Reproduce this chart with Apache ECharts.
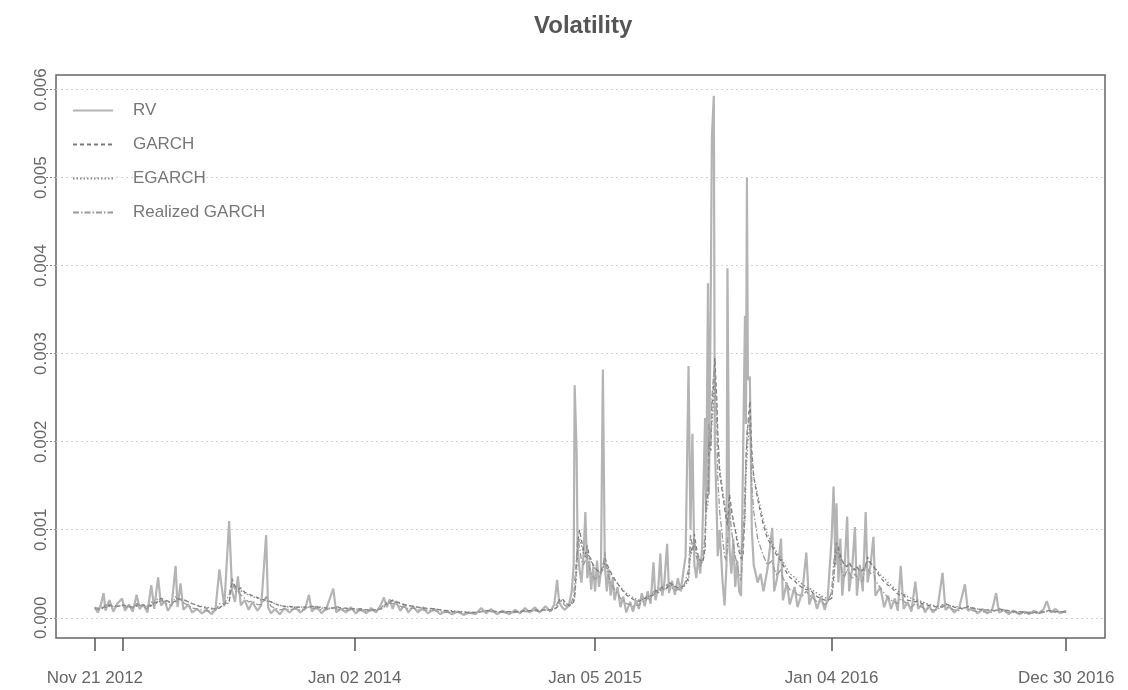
<!DOCTYPE html>
<html>
<head>
<meta charset="utf-8">
<title>Volatility</title>
<script src="https://cdn.jsdelivr.net/npm/echarts@6/dist/echarts.min.js"></script>
<style>
	html, body { margin: 0; padding: 0; background: #fff; }
	#main { width: 1128px; height: 690px; }
</style>
</head>
<body>
<div id="main"></div>
<script>
// x = trading-day number counted from Nov 21 2012 (the plot is by observation, like xts)
// values are read off the picture, in units of 1e-4
var obs = [
	0,3,6,9,11, 15,19,23,28,31, 35,39,43,46,50, 54,58,61,65,68, 72,75,79,83,85, 88,91,96,100,105,
	110,115,120,124,128, 133,138,141,144,147, 150,154,158,162,167, 171,176,178,181,185, 190,195,200,206,211,
	216,220,223,228,233, 238,245,248,253,
	258,263,268,273,279, 284,289,294,297,300, 303,306,309,314,318, 322,327,332,337,342, 349,355,361,367,373,
	379,385,391,397,402, 407,413,419,426,432, 437,442,447,452,457, 463,468,472,475,477, 480,483,487,490,
	492,493,495,496,498, 500,502,504,506,508, 510,512,514,516,518, 520,522,524,526,528, 530,532,534,537,540,
	543,546,550,553,
	556,559,562,565,568, 571,574,576,579,581, 583,585,588,590,593, 596,599,602,605,607, 610,612,614,616,618,
	620,622,624,625,627, 628,630,631,633,634, 636,637,639,640,642, 645,647,649,650,652, 654,656,658,660,662,
	664,666,668,669,670, 671,673,675,677,681, 684,687,691,696,698, 701,705,707,711,714, 719,722,727,731,734,
	738,742,746,750,753,
	757,759,761,762,764, 766,768,770,773,775, 778,781,783,786,789, 792,794,797,800,802, 807,811,815,818,822,
	825,828,831,835,839, 843,846,850,853,857, 861,866,871,874,878, 883,888,894,897,902, 907,912,917,922,926,
	929,934,939,944,950, 955,960,965,970,975, 978,982,987,992,998
];

var rv = [
	1.2,0.6,1.4,2.8,0.8, 2.0,0.7,1.6,2.2,0.8, 1.5,0.7,2.6,1.0,1.5, 0.6,3.7,1.0,4.6,1.4, 1.9,0.8,1.5,5.9,1.2, 3.9,0.9,1.5,0.6,1.0,
	0.5,0.9,0.4,1.0,5.5, 1.3,11.0,3.0,1.8,4.7, 1.4,2.0,0.9,1.8,0.8, 1.4,9.4,1.2,0.5,1.0, 0.4,1.1,0.6,1.2,0.6,
	1.0,2.6,0.7,1.3,0.5, 1.1,3.3,0.6,1.0,
	0.6,1.2,0.5,1.0,0.5, 1.1,0.6,1.5,2.3,1.2, 2.1,1.0,1.9,0.8,1.5, 0.6,1.3,0.6,1.2,0.5, 1.0,0.4,0.8,0.4,0.7,
	0.3,0.6,0.4,1.1,0.5, 1.0,0.4,0.8,0.4,0.9, 0.5,1.1,0.6,1.2,0.6, 1.3,0.7,1.5,4.3,1.8, 1.2,0.9,1.4,3.0,
	6.0,26.4,18.8,8.0,5.5, 4.0,7.0,12.0,4.5,6.5, 3.2,5.8,3.0,6.5,3.5, 5.2,28.2,6.0,3.0,5.5, 2.5,4.5,2.0,3.5,1.2,
	2.4,0.6,1.8,0.7,
	2.0,1.0,2.8,1.3,3.0, 1.6,6.3,2.0,3.5,7.3, 2.5,3.8,8.4,2.8,4.2, 2.6,4.5,3.0,5.5,7.0, 28.6,10.0,20.9,6.0,4.5,
	7.0,5.0,8.0,13.0,22.7, 12.0,38.0,14.0,39.0,54.6, 59.3,20.0,12.0,7.0,10.0, 4.0,1.4,6.0,39.7,8.0, 5.0,9.0,3.5,6.5,3.0,
	2.5,18.0,34.3,22.0,50.0, 27.0,27.4,10.0,6.0,4.0, 5.0,3.0,5.5,10.2,3.0, 4.5,9.0,2.0,4.0,1.5, 3.5,1.2,3.0,7.4,1.5,
	2.8,1.0,2.4,0.9,2.2,
	9.0,14.9,6.0,13.0,4.0, 9.0,2.5,5.0,11.5,3.0, 5.5,10.3,2.5,6.0,3.0, 12.0,4.0,6.0,9.2,2.5, 3.5,1.2,2.5,1.0,2.2,
	0.8,5.9,1.0,1.8,0.7, 4.1,1.0,1.6,0.6,1.4, 0.6,1.2,5.1,0.9,1.3, 0.6,1.1,3.8,0.8,1.1, 0.5,1.0,0.5,0.9,2.8,
	0.6,0.9,0.4,0.8,0.4, 0.7,0.4,0.8,0.5,1.0, 1.9,0.6,1.0,0.5,0.8
];

var garch = [
	1.1,1.1,1.0,1.2,1.3, 1.4,1.4,1.3,1.4,1.4, 1.3,1.2,1.4,1.6,1.4, 1.3,1.4,1.7,1.8,2.2, 2.0,1.9,1.7,1.9,2.2, 2.1,2.1,1.8,1.6,1.4,
	1.2,1.1,1.0,1.0,1.1, 1.6,1.8,4.4,3.6,3.2, 3.4,2.9,2.7,2.5,2.3, 2.1,2.0,2.2,1.8,1.6, 1.4,1.3,1.3,1.2,1.2,
	1.2,1.2,1.3,1.2,1.2, 1.1,1.1,1.3,1.1,
	1.1,1.0,1.0,1.0,0.9, 0.9,0.9,1.0,1.3,1.7, 1.8,2.0,1.8,1.7,1.5, 1.4,1.3,1.2,1.1,1.1, 1.0,0.9,0.8,0.7,0.7,
	0.6,0.6,0.6,0.7,0.8, 0.8,0.7,0.7,0.7,0.7, 0.7,0.8,0.8,0.9,0.8, 0.9,0.9,1.0,1.2,2.0, 2.2,1.8,1.4,1.5,
	1.8,2.4,6.0,8.5,10.0, 8.8,7.8,7.2,8.2,7.0, 6.6,6.0,5.8,5.4,5.6, 5.2,5.0,6.8,6.2,5.6, 5.2,4.8,4.4,3.9,3.4,
	3.0,2.6,2.3,2.1,
	1.9,1.9,2.0,2.2,2.4, 2.5,2.6,3.1,3.0,3.0, 3.5,3.4,3.4,4.0,3.8, 3.6,3.4,3.5,3.6,4.0, 4.5,8.0,7.5,9.5,8.0,
	7.0,6.6,6.2,6.5,8.0, 13.0,14.0,20.0,19.0,24.0, 27.0,29.5,25.0,21.0,16.4, 14.0,12.5,11.0,10.5,14.0, 12.5,11.0,10.0,8.5,7.5,
	6.7,7.0,12.0,18.0,20.0, 22.0,24.6,19.0,16.0,13.5, 11.9,10.5,9.0,8.1,8.0, 7.0,6.5,6.4,5.1,4.6, 4.2,3.8,3.4,3.2,3.3,
	2.8,2.4,2.2,2.0,2.0,
	2.2,4.5,7.5,8.5,8.0, 7.0,6.5,6.0,5.8,6.3, 5.6,5.4,5.8,5.2,5.4, 6.0,6.9,6.2,5.8,5.5, 4.6,4.1,3.7,3.5,3.0,
	2.7,2.5,2.6,2.0,1.9, 1.8,1.9,1.6,1.5,1.4, 1.3,1.2,1.2,1.6,1.4, 1.2,1.1,1.0,1.3,1.1, 1.0,0.9,0.9,0.8,0.8,
	1.0,0.9,0.8,0.7,0.7, 0.6,0.6,0.6,0.6,0.7, 0.8,0.8,0.7,0.7,0.7
];

var egarch = [
	1.0,1.0,1.0,1.1,1.2, 1.3,1.3,1.3,1.4,1.3, 1.3,1.2,1.3,1.4,1.4, 1.3,1.3,1.6,1.7,2.0, 1.9,1.8,1.7,1.8,2.1, 2.0,2.0,1.8,1.6,1.4,
	1.3,1.2,1.1,1.0,1.1, 1.5,1.7,3.9,3.4,3.0, 3.1,2.8,2.6,2.4,2.2, 2.0,1.9,2.0,1.8,1.6, 1.4,1.3,1.2,1.2,1.2,
	1.2,1.2,1.3,1.2,1.1, 1.1,1.1,1.2,1.1,
	1.0,1.0,1.0,0.9,0.9, 0.9,0.9,1.0,1.2,1.5, 1.7,1.9,1.8,1.6,1.5, 1.4,1.3,1.2,1.1,1.0, 1.0,0.9,0.8,0.8,0.7,
	0.7,0.6,0.6,0.7,0.8, 0.8,0.7,0.7,0.7,0.7, 0.7,0.8,0.8,0.8,0.8, 0.9,0.9,1.0,1.1,1.8, 2.0,1.7,1.4,1.5,
	1.7,2.2,5.2,7.5,9.0, 8.2,7.4,6.8,7.8,6.8, 6.4,5.9,5.6,5.3,5.4, 5.1,4.9,6.2,5.8,5.3, 5.0,4.6,4.3,3.9,3.5,
	3.1,2.8,2.5,2.3,
	2.1,2.0,2.1,2.2,2.4, 2.5,2.6,2.9,2.9,2.9, 3.3,3.3,3.3,3.7,3.7, 3.5,3.4,3.4,3.5,3.8, 4.2,7.0,6.8,8.5,7.5,
	6.8,6.5,6.2,6.4,7.5, 12.0,13.0,18.0,18.0,22.0, 25.0,27.5,24.0,20.5,17.0, 14.5,13.0,11.5,10.5,13.0, 12.0,11.0,10.0,9.0,8.0,
	7.2,7.0,11.0,16.0,18.0, 20.0,22.0,18.5,16.0,14.0, 12.5,11.0,9.5,8.5,8.0, 7.3,6.8,6.6,5.6,5.0, 4.6,4.2,3.8,3.5,3.4,
	3.1,2.8,2.5,2.3,2.1,
	2.2,4.0,6.8,7.5,7.5, 6.8,6.5,6.0,5.8,6.2, 5.8,5.5,5.8,5.4,5.4, 6.0,6.5,6.2,5.9,5.6, 4.9,4.5,4.0,3.7,3.3,
	3.0,2.8,2.7,2.4,2.2, 2.0,2.0,1.8,1.7,1.5, 1.4,1.3,1.2,1.5,1.4, 1.3,1.2,1.1,1.2,1.1, 1.0,0.9,0.9,0.9,0.8,
	0.9,0.8,0.8,0.7,0.7, 0.7,0.6,0.6,0.6,0.7, 0.7,0.8,0.7,0.7,0.7
];

var rgarch = [
	1.2,0.9,1.1,1.4,1.3, 1.5,1.2,1.3,1.5,1.2, 1.3,1.1,1.6,1.5,1.3, 1.0,1.8,1.6,2.2,2.0, 1.7,1.5,1.4,2.4,2.0, 2.1,1.7,1.4,1.1,1.0,
	0.9,0.8,0.7,0.8,1.6, 1.6,2.6,4.5,3.0,3.0, 2.6,2.2,1.8,1.9,1.5, 1.5,2.4,2.0,1.3,1.1, 0.9,1.0,0.9,1.0,0.9,
	1.0,1.3,1.1,1.0,0.9, 0.9,1.2,1.0,0.9,
	0.8,0.9,0.8,0.8,0.7, 0.8,0.8,1.1,1.5,1.6, 1.7,1.6,1.6,1.3,1.2, 1.0,1.1,0.9,0.9,0.8, 0.8,0.7,0.6,0.6,0.6,
	0.5,0.5,0.5,0.7,0.7, 0.7,0.6,0.6,0.5,0.6, 0.6,0.7,0.7,0.8,0.7, 0.9,0.8,1.0,1.6,2.0, 1.8,1.4,1.2,1.8,
	2.5,4.0,7.0,9.0,8.0, 6.5,6.0,6.5,7.2,5.8, 5.0,4.8,4.4,4.6,4.6, 4.4,5.5,7.5,5.5,4.6, 4.0,3.6,3.2,2.8,2.2,
	2.0,1.6,1.5,1.3,
	1.4,1.4,1.8,1.9,2.2, 2.1,3.0,3.0,2.8,3.4, 3.3,3.1,3.8,3.6,3.4, 3.1,3.2,3.2,3.5,4.2, 5.5,9.5,8.0,9.0,7.0,
	6.2,5.8,6.0,7.0,9.5, 14.0,15.0,22.0,20.0,25.0, 28.0,28.5,22.0,16.0,12.0, 9.0,7.0,6.5,8.0,13.0, 10.0,8.5,7.0,6.0,5.0,
	4.2,8.0,15.0,18.0,21.0, 22.0,23.0,15.0,12.0,9.0, 8.0,7.0,6.0,6.5,5.5, 4.8,5.5,4.5,3.8,3.2, 3.0,2.6,2.5,3.0,2.6,
	2.2,1.8,1.8,1.5,1.7,
	3.0,6.0,8.0,8.5,7.0, 6.5,5.0,4.6,5.5,5.2, 4.4,5.0,4.6,4.2,4.2, 6.0,6.0,5.0,5.2,4.2, 3.4,2.8,2.3,2.0,1.8,
	1.6,2.2,1.9,1.5,1.2, 1.6,1.4,1.2,1.0,1.0, 0.9,0.9,1.5,1.3,1.1, 0.9,0.8,1.2,1.0,0.8, 0.7,0.7,0.6,0.6,0.9,
	0.8,0.7,0.6,0.6,0.5, 0.5,0.5,0.5,0.5,0.6, 0.8,0.7,0.6,0.6,0.6
];

// axis ticks: observation number and its date
var tickObs = [0, 29, 267, 514, 757, 998];
var tickLabels = ['Nov 21 2012', '', 'Jan 02 2014', 'Jan 05 2015', 'Jan 04 2016', 'Dec 30 2016'];
var yTicks = [0, 0.001, 0.002, 0.003, 0.004, 0.005, 0.006];

var FONT = 'Liberation Sans, Arial, sans-serif';

function lineSeries(name, values, color, width, dash) {
	return {
		name: name,
		type: 'line',
		data: obs.map(function (o, i) { return [o, values[i] * 1e-4]; }),
		symbol: 'none',
		lineStyle: { color: color, width: width, type: dash },
		itemStyle: { color: color },
		emphasis: { disabled: true }
	};
}

var myChart = echarts.init(document.getElementById('main'));
var option = {
	animation: false,
	backgroundColor: '#fff',
	title: {
		text: 'Volatility',
		left: 529,
		top: 9,
		textStyle: { fontSize: 24, fontWeight: 'bold', color: '#555', fontFamily: FONT }
	},
	legend: {
		orient: 'vertical',
		left: 67,
		top: 97,
		itemWidth: 40,
		itemHeight: 14,
		itemGap: 17,
		itemStyle: { opacity: 0 },
		textStyle: { fontSize: 17, color: '#777', fontFamily: FONT, padding: [0, 0, 0, 15] },
		data: ['RV', 'GARCH', 'EGARCH', 'Realized GARCH']
	},
	grid: {
		left: 56, right: 23, top: 75, bottom: 52,
		show: true,
		borderColor: '#666',
		borderWidth: 1.5
	},
	xAxis: {
		type: 'value',
		min: -39.9,
		max: 1037.9,
		axisLine: { show: false, onZero: false },
		axisTick: { customValues: tickObs, length: 13, lineStyle: { color: '#555', width: 1.5 } },
		axisLabel: {
			customValues: tickObs,
			margin: 32,
			fontSize: 17,
			color: '#666',
			fontFamily: FONT,
			formatter: function (v) { return tickLabels[tickObs.indexOf(v)]; }
		},
		splitLine: { show: false }
	},
	yAxis: {
		type: 'value',
		min: -0.00023,
		max: 0.006166,
		axisLine: { show: false, onZero: false },
		axisTick: { show: true, customValues: yTicks, length: 11, lineStyle: { color: '#888', width: 1, type: [2, 2] } },
		axisLabel: {
			customValues: yTicks,
			rotate: 90,
			margin: 6,
			fontSize: 17,
			color: '#666',
			fontFamily: FONT,
			formatter: function (v) { return v.toFixed(3); }
		},
		splitLine: { show: true, lineStyle: { color: '#d2d2d2', width: 1, type: [2, 3] } }
	},
	series: [
		lineSeries('RV', rv, '#b4b4b4', 2.2, 'solid'),
		lineSeries('GARCH', garch, '#7a7a7a', 1.3, [4, 3]),
		lineSeries('EGARCH', egarch, '#8a8a8a', 1.3, [1.5, 2]),
		lineSeries('Realized GARCH', rgarch, '#9a9a9a', 1.3, [6, 2, 1.5, 2])
	]
};
myChart.setOption(option);
</script>
</body>
</html>
